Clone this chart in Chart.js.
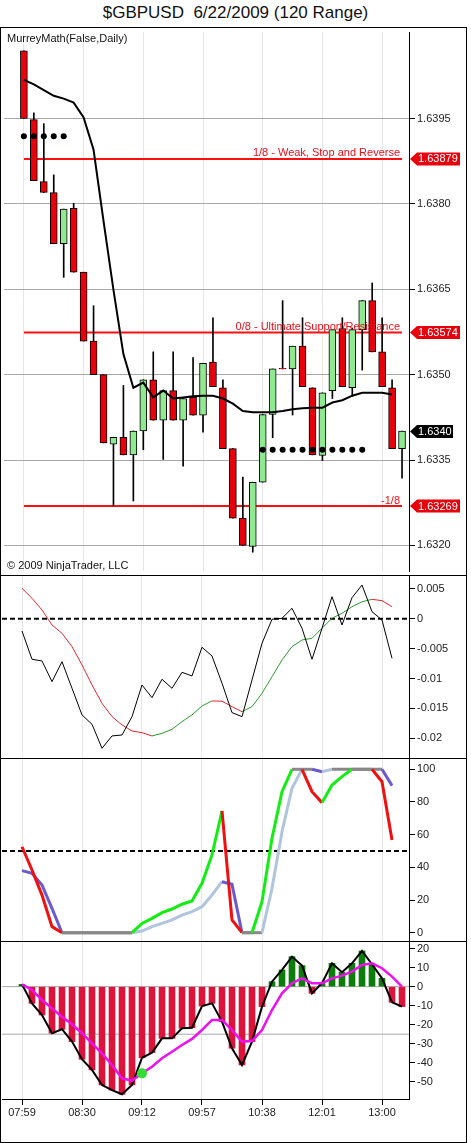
<!DOCTYPE html>
<html>
<head>
<meta charset="utf-8">
<title>$GBPUSD 6/22/2009 (120 Range)</title>
<script src="https://cdn.jsdelivr.net/npm/chart.js@4.4.1/dist/chart.umd.min.js"></script>
<style>
  html, body { margin: 0; padding: 0; background: #fff; }
  #wrap { position: relative; width: 471px; height: 1143px; overflow: hidden; font-family: "Liberation Sans", Arial, sans-serif; }
  #title { position: absolute; left: 0; top: 3px; width: 471px; text-align: center; font-size: 17px; color: #111; white-space: pre; }
  canvas { position: absolute; left: 0; }
  .frame { position: absolute; left: 0; top: 27px; width: 467px; height: 1116px; box-sizing: border-box; border: 1px solid #000; pointer-events: none; }
  .sep { position: absolute; left: 0; width: 467px; height: 1px; background: #000; pointer-events: none; }
  .note { position: absolute; left: 7px; font-size: 11px; color: #111; }
</style>
</head>
<body>
<div id="wrap">
  <div id="title">$GBPUSD  6/22/2009 (120 Range)</div>
  <canvas id="priceChart" width="471" height="547" style="top:28px"></canvas>
  <canvas id="macdChart" width="471" height="182" style="top:576px"></canvas>
  <canvas id="stochChart" width="471" height="182" style="top:759px"></canvas>
  <canvas id="cciChart" width="471" height="201" style="top:942px"></canvas>
  <div class="note" style="top:32px">MurreyMath(False,Daily)</div>
  <div class="note" style="top:559px">© 2009 NinjaTrader, LLC</div>
  <div class="frame"></div>
  <div class="sep" style="top:575px"></div>
  <div class="sep" style="top:758px"></div>
  <div class="sep" style="top:941px"></div>
</div>

<script>
// ---- data ----

// x axis labels (every 6th range bar)
const timeLabels = ['07:59', '08:30', '09:12', '09:57', '10:38', '12:01', '13:00'];
const labelBars = [0, 6, 12, 18, 24, 30, 36];

// 120 range bars
const opens  = [1.64069, 1.63948, 1.63839, 1.63820, 1.63730, 1.63792, 1.63680, 1.63559, 1.63500, 1.63378,
                1.63390, 1.63359, 1.63401, 1.63491, 1.63420, 1.63472, 1.63420, 1.63460, 1.63429, 1.63522,
                1.63477, 1.63370, 1.63248, 1.63198, 1.63311, 1.63430, 1.63511, 1.63510, 1.63550, 1.63477,
                1.63358, 1.63472, 1.63581, 1.63477, 1.63579, 1.63630, 1.63540, 1.63477, 1.63370];
const highs  = [1.64069, 1.63960, 1.63941, 1.63851, 1.63791, 1.63801, 1.63680, 1.63621, 1.63500, 1.63390,
                1.63481, 1.63401, 1.63491, 1.63540, 1.63472, 1.63540, 1.63458, 1.63530, 1.63520, 1.63600,
                1.63491, 1.63370, 1.63320, 1.63311, 1.63430, 1.63510, 1.63630, 1.63550, 1.63600, 1.63477,
                1.63468, 1.63579, 1.63600, 1.63582, 1.63630, 1.63661, 1.63600, 1.63491, 1.63401];
const lows   = [1.63950, 1.63841, 1.63820, 1.63730, 1.63671, 1.63680, 1.63559, 1.63500, 1.63380, 1.63269,
                1.63359, 1.63278, 1.63368, 1.63420, 1.63351, 1.63420, 1.63339, 1.63429, 1.63399, 1.63479,
                1.63370, 1.63248, 1.63200, 1.63188, 1.63311, 1.63389, 1.63510, 1.63429, 1.63479, 1.63359,
                1.63349, 1.63458, 1.63479, 1.63462, 1.63508, 1.63540, 1.63479, 1.63370, 1.63318];
const closes = [1.63950, 1.63841, 1.63820, 1.63730, 1.63791, 1.63680, 1.63559, 1.63500, 1.63380, 1.63390,
                1.63359, 1.63401, 1.63491, 1.63420, 1.63472, 1.63420, 1.63458, 1.63429, 1.63520, 1.63479,
                1.63370, 1.63248, 1.63200, 1.63311, 1.63430, 1.63510, 1.63510, 1.63550, 1.63479, 1.63359,
                1.63468, 1.63579, 1.63479, 1.63579, 1.63630, 1.63540, 1.63479, 1.63370, 1.63401];

// black moving average on the price panel
const maLine = [1.64018, 1.64010, 1.64000, 1.63990, 1.63985, 1.63978, 1.63952, 1.63895, 1.63770, 1.63649,
                1.63536, 1.63477, 1.63486, 1.63460, 1.63472, 1.63458, 1.63460, 1.63462, 1.63463, 1.63463,
                1.63458, 1.63449, 1.63436, 1.63434, 1.63434, 1.63434, 1.63436, 1.63439, 1.63441, 1.63442,
                1.63442, 1.63451, 1.63455, 1.63463, 1.63468, 1.63468, 1.63468, 1.63465, null];

// dotted levels
const upperDotBars = [0, 1, 2, 3, 4];
const upperDotLevel = 1.63919;
const lowerDotBars = [24, 25, 26, 27, 28, 29, 30, 31, 32, 33, 34];
const lowerDotLevel = 1.63368;

// Murrey math lines
const murreyLevels = [1.63879, 1.63574, 1.63269];
const murreyNames = ['1/8 - Weak, Stop and Reverse', '0/8 - Ultimate Support/Resistance', '-1/8'];
const priceTicks = [1.6395, 1.638, 1.6365, 1.635, 1.6335, 1.632];
const lastPrice = 1.6340;

// panel 2 oscillator
const oscLine = [-0.00206, -0.00679, -0.00707, -0.01053, -0.00719, -0.01164, -0.0161, -0.01766, -0.02167, -0.01961,
                 -0.01945, -0.01638, -0.01109, -0.01321, -0.01013, -0.01164, -0.00897, -0.00958, -0.00478, -0.00624,
                 -0.0108, -0.01571, -0.01638, -0.01025, -0.00411, -0.0001, 0.00007, 0.00174, -0.0016, -0.00679,
                 -0.0016, 0.00368, -0.00105, 0.00351, 0.00563, 0.00117, -0.00022, -0.00662, null];
const oscSignal = [0.00508, 0.00341, 0.00145, -0.00105, -0.00244, -0.00468, -0.00774, -0.01109, -0.01415, -0.01638,
                   -0.01777, -0.01878, -0.01906, -0.01961, -0.01917, -0.0185, -0.01722, -0.0161, -0.0146, -0.01376,
                   -0.0138, -0.01471, -0.01555, -0.01471, -0.01247, -0.0097, -0.0069, -0.00468, -0.00356, -0.00328,
                   -0.0016, 0.00007, 0.0009, 0.002, 0.00284, 0.00324, 0.00301, 0.002, null];
const oscTicks = [0.005, 0, -0.005, -0.01, -0.015, -0.02];

// panel 3 stochastics
const stochK = [52.6, 38.4, 23.0, 3.7, 0, 0, 0, 0, 0, 0,
                0, 0, 5.7, 8.8, 12.3, 14.5, 17.4, 19.4, 30.2, 47.6,
                74.5, 7.8, 0, 0, 19.0, 57.8, 86.3, 100, 100, 86.3,
                79.6, 90.4, 95.5, 100, 100, 100, 92.4, 56.7, null];
const stochD = [38.0, 36.3, 29.2, 14.9, 0, 0, 0, 0, 0, 0,
                0, 0, 1.0, 3.7, 5.7, 7.8, 10.8, 12.9, 15.9, 23.1,
                31.2, 29.6, 0, 0, 0, 27.2, 61.8, 88.4, 100, 100,
                98.5, 100, 100, 100, 100, 100, 100, 90.0, null];
const stochTicks = [100, 80, 60, 40, 20, 0];
const stochMid = 50;

// panel 4 histogram + average
const cciHist = [1.2, -8.8, -14.9, -24.5, -22.4, -28.9, -38.2, -43.8, -51.7, -54.4,
                 -56.6, -51.7, -37.4, -34.7, -27.2, -27.2, -21.9, -21.6, -10.2, -8.8,
                 -18.4, -32.4, -41.2, -28.9, -10.5, 2.6, 8.8, 15.8, 11.1, -3.5,
                 1.8, 12.3, 7.6, 12.3, 18.8, 11.8, 4.4, -8.2, -10.5];
const cciAvg = [1.2, -1.7, -7.0, -11.4, -15.8, -19.8, -24.5, -29.8, -35.1, -41.2,
                -48.2, -49.5, -45.6, -42.1, -37.7, -34.2, -30.7, -27.5, -22.8, -17.5,
                -17.5, -22.8, -28.9, -28.6, -22.8, -12.3, -3.5, 1.8, 4.4, 1.8,
                1.8, 4.4, 5.8, 7.9, 11.4, 12.3, 9.7, 5.3, 0];
const cciTicks = [20, 10, 0, -10, -20, -30, -40, -50];
const cciLevels = [0, -25];
const signalBars = [12];

// ---- layout ----
const FONT = '"Liberation Sans", Arial, sans-serif';
const X_MIN = -2;
const X_MAX = 38.7;
const AXIS_W = 62;
const bars = opens.map((_, i) => i);
const pts = arr => arr.map((v, i) => ({ x: i, y: v }));
const hline = v => [{ x: X_MIN, y: v }, { x: X_MAX, y: v }];

function xScale(showLabels) {
    return {
        type: 'linear',
        min: X_MIN,
        max: X_MAX,
        offset: false,
        afterBuildTicks: s => { s.ticks = labelBars.map(v => ({ value: v })); },
        afterFit: s => { s.height = showLabels ? 44 : 0; s.paddingLeft = 0; s.paddingRight = 0; },
        grid: { offset: false, color: '#e6e6e6', drawTicks: showLabels, tickLength: 6, tickColor: '#000' },
        border: { display: showLabels, color: '#000' },
        ticks: {
            display: showLabels,
            autoSkip: false,
            maxRotation: 0,
            padding: 1,
            color: '#222',
            font: { size: 11, family: FONT },
            callback: v => timeLabels[labelBars.indexOf(v)]
        }
    };
}

function yScale(min, max, tickValues, fmt, gridColor) {
    return {
        type: 'linear',
        position: 'right',
        min: min,
        max: max,
        afterBuildTicks: s => { s.ticks = tickValues.map(v => ({ value: v })); },
        afterFit: s => { s.width = AXIS_W; s.paddingTop = 0; s.paddingBottom = 0; },
        grid: { color: gridColor, tickLength: 6, tickColor: '#000' },
        border: { color: '#000' },
        ticks: { padding: 2, color: '#222', font: { size: 11, family: FONT }, callback: fmt }
    };
}

function baseOptions(scales) {
    return {
        responsive: false,
        animation: false,
        layout: { padding: { left: 2, right: 0, top: 0, bottom: 0 } },
        plugins: { legend: { display: false }, tooltip: { enabled: false } },
        scales: scales
    };
}

// price tag with a notch on the left, drawn next to the axis
function drawTag(ctx, left, yc, text, fill, w) {
    ctx.save();
    ctx.beginPath();
    ctx.moveTo(left + 1, yc);
    ctx.lineTo(left + 8, yc - 6.5);
    ctx.lineTo(left + w, yc - 6.5);
    ctx.lineTo(left + w, yc + 6.5);
    ctx.lineTo(left + 8, yc + 6.5);
    ctx.closePath();
    ctx.fillStyle = fill;
    ctx.fill();
    ctx.fillStyle = '#fff';
    ctx.font = '11px ' + FONT;
    ctx.textAlign = 'left';
    ctx.textBaseline = 'middle';
    ctx.fillText(text, left + 9, yc + 0.5);
    ctx.restore();
}

const murreyTags = {
    id: 'murreyTags',
    afterDraw(chart) {
        const { ctx, chartArea, scales: { x, y } } = chart;
        const textRight = x.getPixelForValue(bars.length - 1) - 2;
        murreyLevels.forEach((lvl, k) => {
            const py = y.getPixelForValue(lvl);
            ctx.save();
            ctx.font = '11px ' + FONT;
            ctx.fillStyle = '#e8101a';
            ctx.textAlign = 'right';
            ctx.textBaseline = 'bottom';
            ctx.fillText(murreyNames[k], textRight, py);
            ctx.restore();
            drawTag(ctx, chartArea.right, py, lvl.toFixed(5), '#e8000b', 51);
        });
        drawTag(ctx, chartArea.right, y.getPixelForValue(lastPrice), lastPrice.toFixed(4), '#000', 44);
    }
};

// ---- panel 1: range bars ----
const murreySets = murreyLevels.map(lvl => ({
    type: 'line',
    data: [{ x: 0, y: lvl }, { x: bars.length - 1, y: lvl }],
    borderColor: '#ff1010',
    borderWidth: 2,
    pointRadius: 0,
    order: 6
}));

new Chart(document.getElementById('priceChart'), {
    type: 'bar',
    data: {
        datasets: [
            {
                type: 'bar',
                data: bars.map(i => ({ x: i, y: [lows[i], highs[i]] })),
                backgroundColor: '#000',
                barThickness: 1,
                grouped: false,
                order: 5
            },
            {
                type: 'bar',
                data: bars.map(i => ({ x: i, y: [opens[i], closes[i]] })),
                backgroundColor: bars.map(i => closes[i] >= opens[i] ? '#90e890' : '#e8000b'),
                borderColor: '#000',
                borderWidth: 1,
                borderSkipped: false,
                barThickness: 7,
                grouped: false,
                order: 4
            },
            ...murreySets,
            {
                type: 'line',
                data: pts(maLine),
                borderColor: '#000',
                borderWidth: 2,
                pointRadius: 0,
                order: 2
            },
            {
                type: 'line',
                data: upperDotBars.map(i => ({ x: i, y: upperDotLevel }))
                    .concat(lowerDotBars.map(i => ({ x: i, y: lowerDotLevel }))),
                showLine: false,
                pointRadius: 3,
                pointBackgroundColor: '#000',
                pointBorderWidth: 0,
                order: 1
            }
        ]
    },
    options: baseOptions({
        x: xScale(false),
        y: yScale(1.63155, 1.64102, priceTicks, v => v.toFixed(4), '#a8a8a8')
    }),
    plugins: [murreyTags]
});

// ---- panel 2: oscillator ----
new Chart(document.getElementById('macdChart'), {
    type: 'line',
    data: {
        datasets: [
            {
                data: hline(0),
                borderColor: '#000',
                borderWidth: 2,
                borderDash: [5, 3],
                pointRadius: 0,
                order: 3
            },
            {
                data: pts(oscSignal),
                borderWidth: 1,
                pointRadius: 0,
                segment: { borderColor: c => c.p1.parsed.y >= c.p0.parsed.y ? '#2e9a2e' : '#e8262b' },
                order: 2
            },
            {
                data: pts(oscLine),
                borderColor: '#000',
                borderWidth: 1,
                pointRadius: 0,
                order: 1
            }
        ]
    },
    options: baseOptions({
        x: xScale(false),
        y: yScale(-0.0233, 0.00714, oscTicks, v => String(Math.round(v * 1000) / 1000), 'rgba(0,0,0,0)')
    })
});

// ---- panel 3: stochastics ----
const flatGrey = '#888888';
new Chart(document.getElementById('stochChart'), {
    type: 'line',
    data: {
        datasets: [
            {
                data: hline(stochMid),
                borderColor: '#000',
                borderWidth: 2,
                borderDash: [5, 3],
                pointRadius: 0,
                order: 3
            },
            {
                data: pts(stochD),
                borderWidth: 3,
                pointRadius: 0,
                segment: {
                    borderColor: c => c.p1.parsed.y > c.p0.parsed.y ? '#b0c4de'
                        : (c.p1.parsed.y < c.p0.parsed.y ? '#6a5acd' : flatGrey)
                },
                order: 2
            },
            {
                data: pts(stochK),
                borderWidth: 3,
                pointRadius: 0,
                segment: {
                    borderColor: c => c.p1.parsed.y > c.p0.parsed.y ? '#12ee12'
                        : (c.p1.parsed.y < c.p0.parsed.y ? '#f01010' : flatGrey)
                },
                order: 1
            }
        ]
    },
    options: baseOptions({
        x: xScale(false),
        y: yScale(-5.08, 106.3, stochTicks, v => String(v), 'rgba(0,0,0,0)')
    })
});

// ---- panel 4: histogram ----
new Chart(document.getElementById('cciChart'), {
    type: 'bar',
    data: {
        datasets: [
            ...cciLevels.map(lvl => ({
                type: 'line',
                data: hline(lvl),
                borderColor: '#a8a8a8',
                borderWidth: 1,
                pointRadius: 0,
                order: 5
            })),
            {
                type: 'bar',
                data: pts(cciHist),
                backgroundColor: cciHist.map(v => v >= 0 ? '#0b7d0b' : '#dc143c'),
                barThickness: 6,
                grouped: false,
                order: 4
            },
            {
                type: 'line',
                data: pts(cciHist),
                borderColor: '#000',
                borderWidth: 2,
                pointRadius: 0,
                order: 2
            },
            {
                type: 'line',
                data: pts(cciAvg),
                borderColor: '#ee10ee',
                borderWidth: 2.5,
                pointRadius: c => signalBars.includes(c.dataIndex) ? 5 : 0,
                pointBackgroundColor: '#33dd33',
                pointBorderWidth: 0,
                order: 1
            }
        ]
    },
    options: baseOptions({
        x: xScale(true),
        y: yScale(-59.1, 23.5, cciTicks, v => String(v), 'rgba(0,0,0,0)')
    })
});
</script>
</body>
</html>
